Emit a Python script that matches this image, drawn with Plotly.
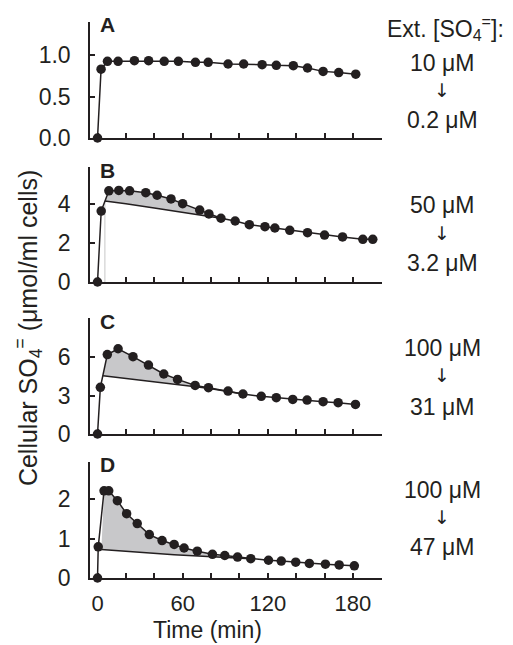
import plotly.graph_objects as go

# ---------------- data ----------------
tA = [0, 2.5, 7, 14.5, 26, 36, 47, 57, 69, 78, 92, 103, 116, 126, 138, 148, 159, 170, 182]
vA = [0, 0.83, 0.925, 0.925, 0.933, 0.933, 0.925, 0.925, 0.913, 0.913, 0.893, 0.893,
      0.885, 0.877, 0.873, 0.845, 0.804, 0.79, 0.77]

tB = [0, 2.6, 8, 15, 22.6, 34, 42, 51.8, 60, 72, 78.5, 87, 97, 107, 118, 125, 135.5,
      148, 160, 172.7, 187, 194]
vB = [0, 3.64, 4.68, 4.7, 4.68, 4.58, 4.45, 4.26, 4.02, 3.69, 3.49, 3.27, 3.13, 2.94,
      2.84, 2.77, 2.65, 2.53, 2.41, 2.31, 2.19, 2.19]
baseB_t = [5.2, 20, 40, 60, 87]
baseB_v = [4.15, 4.02, 3.80, 3.57, 3.27]

tC = [0, 2, 6.9, 14.5, 25, 35.9, 46.7, 56.4, 68.8, 78.2, 92, 102.5, 115.4, 126, 137.6,
      147.7, 159, 169.6, 181.8]
vC = [0, 3.64, 6.2, 6.65, 6.03, 5.38, 4.68, 4.26, 3.79, 3.61, 3.35, 3.12, 2.94, 2.83,
      2.70, 2.65, 2.52, 2.44, 2.31]
baseC_t = [3.9, 30, 57, 78, 102.5]
baseC_v = [4.54, 4.2, 3.88, 3.57, 3.12]

tD = [0, 0.5, 4.6, 7.9, 14, 20.5, 28, 36.5, 45.5, 54, 61, 70.3, 81, 89.7, 98.7, 108,
      120.5, 129.5, 139.7, 149.3, 160.6, 170.3, 181]
vD = [0, 0.79, 2.21, 2.21, 1.96, 1.63, 1.38, 1.10, 0.95, 0.85, 0.76, 0.68, 0.60, 0.57,
      0.53, 0.49, 0.45, 0.43, 0.40, 0.37, 0.35, 0.33, 0.31]
baseD_t = [2.7, 30, 54, 81, 108]
baseD_v = [0.72, 0.65, 0.59, 0.54, 0.49]

panel_letters = ["A", "B", "C", "D"]
y_ranges = [[0, 1.4], [0, 5.9], [0, 9.05], [0, 2.94]]
y_ticks = [[0, 0.5, 1.0], [0, 2, 4], [0, 3, 6], [0, 1, 2]]
y_ticktext = [["0.0", "0.5", "1.0"], ["0", "2", "4"], ["0", "3", "6"], ["0", "1", "2"]]
x_major = [0, 60, 120, 180]
x_major_text = ["0", "60", "120", "180"]
x_minor_step = 20
ext_top = ["10 μM", "50 μM", "100 μM", "100 μM"]
ext_bottom = ["0.2 μM", "3.2 μM", "31 μM", "47 μM"]

# ---------------- layout geometry ----------------
W, H = 513, 645
ML, MR, MT, MB = 90, 130.5, 22, 67
PH = H - MT - MB
PW = W - ML - MR
panel_px = [(22, 138), (167, 282), (318, 434), (462, 578)]


def ydom(p):
    return (H - MB - p) / PH


def xpap(p):
    return (p - ML) / PW


INK = "#231f20"
FILL = "#c8c8ca"
FONT = "Liberation Sans, Arial, sans-serif"

series = [(tA, vA, None, None), (tB, vB, baseB_t, baseB_v),
          (tC, vC, baseC_t, baseC_v), (tD, vD, baseD_t, baseD_v)]

fig = go.Figure()
layout = {}
annotations = []

for i, (t, v, bt, bv) in enumerate(series):
    sfx = "" if i == 0 else str(i + 1)
    xa, ya = "x" + sfx, "y" + sfx
    if bt is not None:
        # shaded area between measured curve and baseline decay
        px_ = [tt for tt in t if bt[0] < tt < bt[-1]]
        pv_ = [vv for tt, vv in zip(t, v) if bt[0] < tt < bt[-1]]
        poly_x = px_ + bt[::-1]
        poly_y = pv_ + bv[::-1]
        fig.add_trace(go.Scatter(x=poly_x, y=poly_y, fill="toself", fillcolor=FILL,
                                 line=dict(width=0), mode="lines", xaxis=xa, yaxis=ya,
                                 hoverinfo="skip", showlegend=False))
        if i == 1:
            fig.add_trace(go.Scatter(x=[bt[0], bt[0]], y=[0, bv[0]], mode="lines",
                                     line=dict(color="#c8c8c8", width=1), xaxis=xa,
                                     yaxis=ya, showlegend=False, hoverinfo="skip"))
        fig.add_trace(go.Scatter(x=bt, y=bv, mode="lines", line=dict(color=INK, width=1.5),
                                 xaxis=xa, yaxis=ya, showlegend=False))
    fig.add_trace(go.Scatter(x=t, y=v, mode="lines+markers",
                             line=dict(color=INK, width=1.5),
                             marker=dict(size=9.5, color=INK),
                             cliponaxis=False, xaxis=xa, yaxis=ya, showlegend=False))

    top, bot = panel_px[i]
    layout["xaxis" + sfx] = dict(
        domain=[0, 1], anchor=ya, range=[-5.3, 200.5], tickvals=x_major,
        ticktext=x_major_text, showticklabels=(i == 3),
        ticks="inside", ticklen=5, tickwidth=1.5, tickcolor=INK,
        minor=dict(dtick=x_minor_step, tick0=0, ticks="inside", ticklen=5,
                   tickwidth=1.5, tickcolor=INK, showgrid=False),
        showline=True, linecolor=INK, linewidth=1.5, showgrid=False, zeroline=False,
        tickfont=dict(size=22, color=INK, family=FONT), ticklabelstandoff=5)
    layout["yaxis" + sfx] = dict(
        domain=[ydom(bot), ydom(top)], anchor=xa, range=y_ranges[i],
        tickvals=y_ticks[i], ticktext=y_ticktext[i],
        ticks="inside", ticklen=5, tickwidth=1.5, tickcolor=INK,
        showline=True, linecolor=INK, linewidth=1.5, showgrid=False, zeroline=False,
        tickfont=dict(size=23, color=INK, family=FONT), ticklabelstandoff=13)

    annotations.append(dict(text="<b>%s</b>" % panel_letters[i], xref="paper", yref="paper",
                            x=xpap(98), y=ydom(top + 3), xanchor="left", yanchor="middle",
                            showarrow=False, font=dict(size=21, color=INK, family=FONT)))

# right-hand concentration labels
ext_rows = [(63, 90, 120), (205, 233, 263), (348, 375, 407), (490, 517, 547)]
for i, (y1, y2, y3) in enumerate(ext_rows):
    for txt, yy, fam, sz in ((ext_top[i], y1, FONT, 23), ("↓", y2, "DejaVu Sans", 19),
                             (ext_bottom[i], y3, FONT, 23)):
        annotations.append(dict(text=txt, xref="paper", yref="paper", x=xpap(443),
                                y=ydom(yy), xanchor="center", yanchor="middle",
                                showarrow=False,
                                font=dict(size=sz, color=INK, family=fam)))
annotations.append(dict(text="Ext. [SO<sub>4</sub><sup>=</sup>]:", xref="paper", yref="paper",
                        x=xpap(446), y=ydom(28), xanchor="center", yanchor="middle",
                        showarrow=False, font=dict(size=23, color=INK, family=FONT)))

annotations.append(dict(text="Cellular SO<sub>4</sub><sup>=</sup> (μmol/ml cells)",
                        xref="paper", yref="paper", x=xpap(28), y=ydom(328),
                        xanchor="center", yanchor="middle", textangle=-90, showarrow=False,
                        font=dict(size=25, color=INK, family=FONT)))
annotations.append(dict(text="Time (min)", xref="paper", yref="paper", x=xpap(208),
                        y=ydom(630), xanchor="center", yanchor="middle", showarrow=False,
                        font=dict(size=23, color=INK, family=FONT)))

fig.update_layout(width=W, height=H, margin=dict(l=ML, r=MR, t=MT, b=MB),
                  paper_bgcolor="white", plot_bgcolor="white",
                  annotations=annotations, **layout)

fig.write_html("out.html", config={"displayModeBar": False},
               post_script="document.body.style.margin='0';document.body.style.padding='0';")
